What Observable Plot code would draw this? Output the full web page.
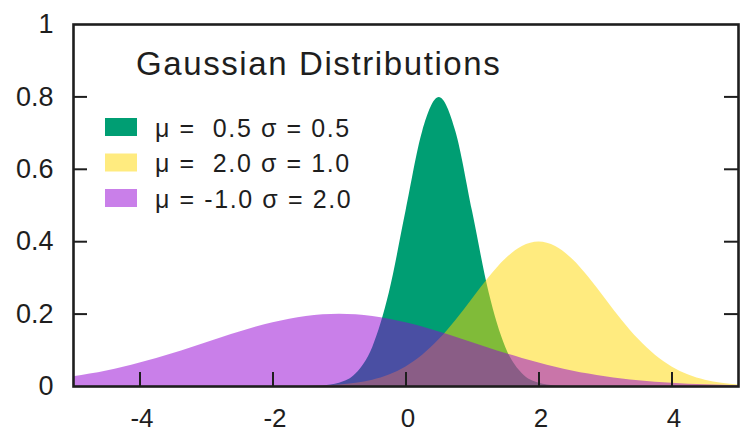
<!DOCTYPE html>
<html>
<head>
<meta charset="utf-8">
<script src="https://cdn.jsdelivr.net/npm/d3@7"></script>
<script src="https://cdn.jsdelivr.net/npm/@observablehq/plot@0.6"></script>
<style>
  html, body { margin: 0; padding: 0; background: #fff; }
  #chart { width: 740px; height: 433px; }
</style>
</head>
<body>
<div id="chart"></div>
<script>
// Sample positions along x
const xs = [-5, -4.75, -4.5, -4.25, -4, -3.75, -3.5, -3.25, -3, -2.75, -2.5, -2.25, -2, -1.75, -1.5, -1.25,
  -1, -0.75, -0.5, -0.25, 0, 0.25, 0.5, 0.75, 1, 1.25, 1.5, 1.75, 2, 2.25, 2.5, 2.75, 3, 3.25, 3.5, 3.75,
  4, 4.25, 4.5, 4.75, 5];

// Density of each distribution at those positions
const greenDensity = [0, 0, 0, 0, 0, 0, 0, 0, 0, 0, 0, 0, 0, 0, 0.0003, 0.0017,
  0.0089, 0.035, 0.108, 0.259, 0.484, 0.704, 0.798, 0.704, 0.484, 0.259, 0.108, 0.035, 0.0089, 0.0017, 0.0003, 0,
  0, 0, 0, 0, 0, 0, 0, 0, 0];
const goldDensity = [0, 0, 0, 0, 0, 0, 0, 0, 0, 0, 0, 0, 0.0001, 0.0004, 0.0009, 0.002,
  0.0044, 0.0091, 0.0175, 0.0317, 0.054, 0.0863, 0.1295, 0.1826, 0.242, 0.3011, 0.352, 0.3867, 0.3989, 0.3867, 0.352, 0.3011,
  0.242, 0.1826, 0.1295, 0.0863, 0.054, 0.0317, 0.0175, 0.0091, 0.0044];
const violetDensity = [0.027, 0.0344, 0.0431, 0.0533, 0.0648, 0.0775, 0.0913, 0.1059, 0.121, 0.136, 0.1506, 0.1641, 0.176, 0.1859, 0.1933, 0.1979,
  0.1995, 0.1979, 0.1933, 0.1859, 0.176, 0.1641, 0.1506, 0.136, 0.121, 0.1059, 0.0913, 0.0775, 0.0648, 0.0533, 0.0431, 0.0344,
  0.027, 0.0209, 0.0159, 0.0119, 0.0088, 0.0064, 0.0045, 0.0032, 0.0022];

// Series labels and fills
const seriesLabels = ["μ =  0.5 σ = 0.5", "μ =  2.0 σ = 1.0", "μ = -1.0 σ = 2.0"];
const seriesColors = ["#009e73", "#ffd700", "#9400d3"];
const seriesOpacity = [1, 0.5, 0.5];
const chartTitle = "Gaussian Distributions";

// Tick values
const xTicks = [-4, -2, 0, 2, 4];
const yTicks = [0, 0.2, 0.4, 0.6, 0.8, 1];
const yInnerTicks = [0.2, 0.4, 0.6, 0.8];

const rows = xs.map((x, i) => ({x, g: greenDensity[i], y: goldDensity[i], v: violetDensity[i]}));
const fields = ["g", "y", "v"];

const font = "'Liberation Sans', Arial, Helvetica, sans-serif";
const ink = "#1e1e1e";

const chart = Plot.plot({
  width: 740,
  height: 433,
  marginLeft: 73,
  marginRight: 2,
  marginTop: 24,
  marginBottom: 47,
  style: {fontFamily: font, color: ink, background: "#fff"},
  x: {domain: [-5, 5], label: null},
  y: {domain: [0, 1], label: null},
  marks: [
    ...fields.map((f, i) => Plot.areaY(rows, {
      x: "x", y: f, fill: seriesColors[i], fillOpacity: seriesOpacity[i], curve: "monotone-x"
    })),
    // inward ticks
    Plot.ruleX(xTicks, {x: d => d, y1: 0, y2: 0, insetBottom: 14, stroke: ink, strokeWidth: 2}),
    Plot.ruleY(yInnerTicks, {y: d => d, x1: -5, x2: -5, insetLeft: 14, stroke: ink, strokeWidth: 2}),
    Plot.ruleY(yInnerTicks, {y: d => d, x1: 5, x2: 5, insetRight: 14, stroke: ink, strokeWidth: 2}),
    Plot.axisX({ticks: xTicks, tickSize: 0, tickPadding: 22, fontSize: 26, dx: 2, tickFormat: d => String(d)}),
    Plot.axisY({ticks: yTicks, tickSize: 0, tickPadding: 20, fontSize: 27, tickFormat: d => String(d)}),
    Plot.frame({stroke: ink, strokeWidth: 2.6})
  ]
});

document.getElementById("chart").appendChild(chart);

// Key title and entries inside the plot area
const svg = d3.select(chart);
const key = svg.append("g")
  .attr("font-family", font)
  .attr("fill", ink)
  .attr("text-anchor", "start");
key.append("text")
  .attr("x", 136).attr("y", 75)
  .attr("font-size", 33)
  .attr("letter-spacing", "1.6px")
  .text(chartTitle);
seriesLabels.forEach((label, i) => {
  const cy = 127 + i * 35.5;
  key.append("rect")
    .attr("x", 105).attr("y", cy - 9)
    .attr("width", 32).attr("height", 18)
    .attr("fill", seriesColors[i]).attr("fill-opacity", seriesOpacity[i]);
  key.append("text")
    .attr("x", 155).attr("y", cy + 9.5)
    .attr("font-size", 25)
    .attr("letter-spacing", "1.6px")
    .style("white-space", "pre")
    .text(label);
});
</script>
</body>
</html>
